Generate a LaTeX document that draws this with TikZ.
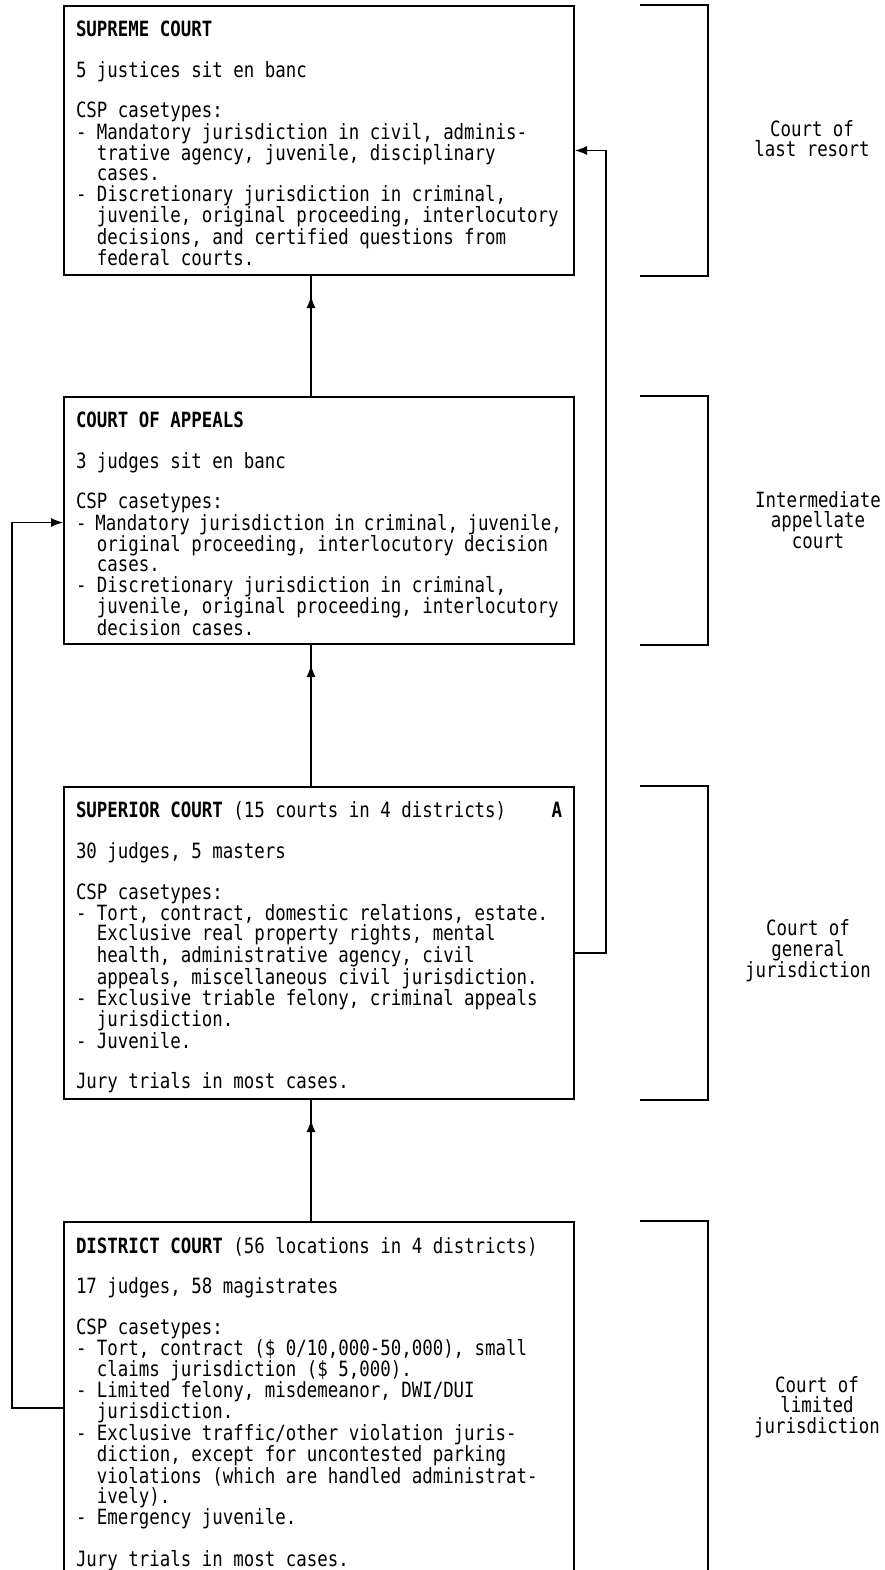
\documentclass[tikz,border=0pt]{standalone}
\usepackage{fontspec}
\usetikzlibrary{arrows.meta,decorations.markings}

\newfontfamily\courtfont[FakeStretch=0.83]{DejaVu Sans Mono}
\newcommand\cfont{\courtfont\fontsize{21pt}{20.3pt}\selectfont}
\newcommand\gap{\\[20.3pt]}
\newcommand\ind{\hphantom{00}}

\tikzstyle{court}=[draw, line width=2pt, anchor=north west, inner xsep=12pt, inner ysep=15pt, font=\cfont]
\tikzstyle{level}=[align=center, font=\cfont]
\tikzstyle{bracket}=[line width=2pt]
\tikzstyle{arrow}=[line width=1.2pt, -{Latex[length=12pt, width=9pt]}]
\tikzstyle{uparrow}=[line width=1.2pt, postaction={decorate}, decoration={markings, mark=at position -20pt with {\arrow{Latex[length=12pt, width=9pt]}}}]

\begin{document}
\begin{tikzpicture}[x=1pt, y=-1pt]
  \useasboundingbox (0,0) rectangle (884,1570);
  \clip (0,0) rectangle (884,1570);

  \node[court] (supreme) at (63,5) {\parbox[t][239pt][t]{486pt}{%
    \textbf{SUPREME COURT}\gap
    5 justices sit en banc\gap
    CSP casetypes:\\
    - Mandatory jurisdiction in civil, adminis-\\
    \ind trative agency, juvenile, disciplinary\\
    \ind cases.\\
    - Discretionary jurisdiction in criminal,\\
    \ind juvenile, original proceeding, interlocutory\\
    \ind decisions, and certified questions from\\
    \ind federal courts.}};
  \node[court] (appeals) at (63,396) {\parbox[t][217pt][t]{486pt}{%
    \textbf{COURT OF APPEALS}\gap
    3 judges sit en banc\gap
    CSP casetypes:\\
    - Mandatory jurisdiction in criminal, juvenile,\\
    \ind original proceeding, interlocutory decision\\
    \ind cases.\\
    - Discretionary jurisdiction in criminal,\\
    \ind juvenile, original proceeding, interlocutory\\
    \ind decision cases.}};
  \node[court] (superior) at (63,786) {\parbox[t][282pt][t]{486pt}{%
    \textbf{SUPERIOR COURT} (15 courts in 4 districts)\hfill\textbf{A}\gap
    30 judges, 5 masters\gap
    CSP casetypes:\\
    - Tort, contract, domestic relations, estate.\\
    \ind Exclusive real property rights, mental\\
    \ind health, administrative agency, civil\\
    \ind appeals, miscellaneous civil jurisdiction.\\
    - Exclusive triable felony, criminal appeals\\
    \ind jurisdiction.\\
    - Juvenile.\gap
    Jury trials in most cases.}};
  \node[court] (district) at (63,1221) {\parbox[t][350pt][t]{486pt}{%
    \textbf{DISTRICT COURT} (56 locations in 4 districts)\gap
    17 judges, 58 magistrates\gap
    CSP casetypes:\\
    - Tort, contract (\$ 0/10,000-50,000), small\\
    \ind claims jurisdiction (\$ 5,000).\\
    - Limited felony, misdemeanor, DWI/DUI\\
    \ind jurisdiction.\\
    - Exclusive traffic/other violation juris-\\
    \ind diction, except for uncontested parking\\
    \ind violations (which are handled administrat-\\
    \ind ively).\\
    - Emergency juvenile.\gap
    Jury trials in most cases.}};

  \node[level] (lastresort) at (812,139) {Court of\\last resort};
  \node[level] (intermediate) at (818,520) {Intermediate\\appellate\\court};
  \node[level] (general) at (808,951) {Court of\\general\\jurisdiction};
  \node[level] (limited) at (817,1407) {Court of\\limited\\jurisdiction};

  \draw[bracket] ([xshift=65pt]supreme.north east) -| ([xshift=133pt]supreme.south east) -- ([xshift=65pt]supreme.south east);
  \draw[bracket] ([xshift=65pt]appeals.north east) -| ([xshift=133pt]appeals.south east) -- ([xshift=65pt]appeals.south east);
  \draw[bracket] ([xshift=65pt]superior.north east) -| ([xshift=133pt]superior.south east) -- ([xshift=65pt]superior.south east);
  \draw[bracket] ([xshift=65pt]district.north east) -| ([xshift=133pt]district.south east) -- ([xshift=65pt]district.south east);

  \draw[uparrow] ([xshift=248pt]appeals.north west) -- ([xshift=248pt]supreme.south west);
  \draw[uparrow] ([xshift=248pt]superior.north west) -- ([xshift=248pt]appeals.south west);
  \draw[uparrow] ([xshift=248pt]district.north west) -- ([xshift=248pt]superior.south west);
  \draw[arrow] ([yshift=-10pt]superior.east) -- ++(31,0) |- ([yshift=-10pt]supreme.east);
  \draw[arrow] ([yshift=4pt]district.west) -- ++(-51,0) |- ([yshift=-2pt]appeals.west);
\end{tikzpicture}
\end{document}
